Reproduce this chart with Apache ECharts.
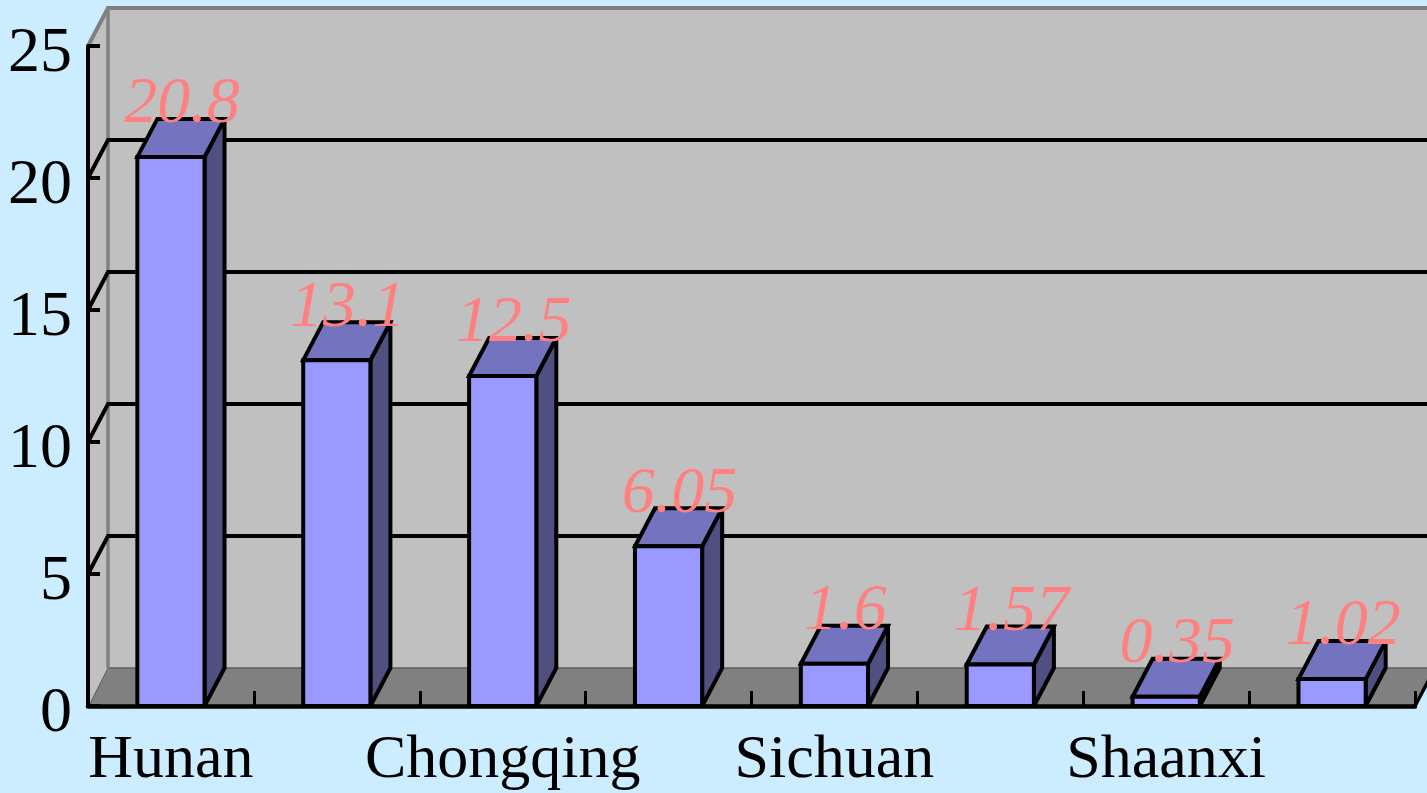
<!DOCTYPE html>
<html><head><meta charset="utf-8">
<style>html,body{margin:0;padding:0;background:#CCECFF}#c{width:1427px;height:793px}</style>
<script src="https://cdn.jsdelivr.net/npm/echarts@6/dist/echarts.min.js"></script>
</head><body><div id="c"></div>
<script>
const categories = ['Hunan','','Chongqing','','Sichuan','','Shaanxi',''];
const values = [20.8,13.1,12.5,6.05,1.6,1.57,0.35,1.02];
const valueLabels = ['20.8','13.1','12.5','6.05','1.6','1.57','0.35','1.02'];
const gridValues = [5,10,15,20];
const DX = 20, DY = -38, BAR = 0.405;
const FONT = '"Liberation Serif", serif';
const chart = echarts.init(document.getElementById('c'), null, {renderer:'canvas'});

function poly(points, fill, stroke, lw, z2){
  return {type:'polygon', shape:{points}, z2:z2||0,
    style:{fill, stroke, lineWidth:lw, lineJoin:'miter', miterLimit:2}};
}
function line(points, stroke, lw, z2){
  return {type:'polyline', shape:{points}, z2:z2||0,
    style:{fill:'none', stroke, lineWidth:lw, lineJoin:'miter', miterLimit:2}};
}
function renderWalls(params, api){
  const cs = params.coordSys;
  const L = cs.x, T = cs.y, R = cs.x+cs.width, B = cs.y+cs.height;
  const kids = [
    poly([[L+DX,T+DY],[R+DX+20,T+DY],[R+DX+20,B+DY],[L+DX,B+DY]],'#C0C0C0','none',0,1),
    poly([[L,T],[L+DX,T+DY],[L+DX,B+DY],[L,B]],'#C0C0C0','none',0,1),
    poly([[L,B],[L+DX,B+DY],[R+DX,B+DY],[R,B]],'#808080','none',0,2),
    line([[L+DX,B+DY],[R+DX+20,B+DY]],'#5E5E5E',1.5,3),
    line([[L+2,B-2],[L+DX,B+DY]],'#5E5E5E',1,3),
    line([[L,T],[L+DX,T+DY],[R+DX+20,T+DY]],'#7F7F7F',4,4),
    line([[L+DX,T+DY],[L+DX,B+DY]],'#808080',3.5,4),
    line([[R,B],[R+DX,B+DY]],'#000',3.5,5)
  ];
  gridValues.forEach(v=>{
    const y = api.coord([0,v])[1];
    kids.push(line([[L,y],[L+DX,y+DY],[R+DX+20,y+DY]],'#000',4,5));
  });
  return {type:'group',children:kids};
}
function renderBars(params, api){
  const i = api.value(0), v = api.value(1);
  const top = api.coord([i,v]), base = api.coord([i,0]);
  const band = api.size([1,0])[0], w = band*BAR;
  const x0 = top[0]-w/2, x1 = top[0]+w/2, yt = top[1], yb = base[1];
  return {type:'group',children:[
    poly([[x1,yb],[x1+DX,yb+DY],[x1+DX,yt+DY],[x1,yt]],'#4F4F80','#000',4,1),
    poly([[x0,yt],[x0+DX,yt+DY],[x1+DX,yt+DY],[x1,yt]],'#7373BF','#000',4,2),
    poly([[x0,yb],[x0,yt],[x1,yt],[x1,yb]],'#9999FF','#000',4,3)
  ]};
}
function renderLabels(params, api){
  const i = api.value(0), v = api.value(1);
  const top = api.coord([i,v]);
  return {type:'text', x:top[0]+DX/2+1, y:top[1]+DY-14, z2:50,
    style:{text:valueLabels[i], fill:'#FF8080', font:'italic 66px '+FONT,
      textAlign:'center', textVerticalAlign:'middle'}};
}
chart.setOption({
  backgroundColor:'#CCECFF',
  animation:false,
  grid:{left:88,right:12,top:46,bottom:87,containLabel:false},
  xAxis:{type:'category',data:categories,boundaryGap:true,
    axisLine:{lineStyle:{color:'#000',width:4.5}},
    axisTick:{show:true,alignWithLabel:false,inside:true,length:15,lineStyle:{color:'#000',width:3}},
    axisLabel:{show:true,interval:0,color:'#000',fontFamily:FONT,fontSize:62,margin:24},
    splitLine:{show:false}},
  yAxis:{type:'value',min:0,max:25,interval:5,
    axisLine:{show:true,lineStyle:{color:'#000',width:4}},
    axisTick:{show:true,inside:true,length:12,lineStyle:{color:'#000',width:4}},
    axisLabel:{color:'#000',fontFamily:FONT,fontSize:64,margin:16,verticalAlign:'top',lineHeight:16},
    splitLine:{show:false}},
  series:[
    {type:'custom',name:'walls',z:-1,silent:true,clip:false,data:[[0,0]],renderItem:renderWalls},
    {type:'custom',name:'bars',z:3,clip:false,encode:{x:0,y:1},
      data:values.map((v,i)=>[i,v]),renderItem:renderBars},
    {type:'custom',name:'labels',z:6,clip:false,encode:{x:0,y:1},
      data:values.map((v,i)=>[i,v]),renderItem:renderLabels}
  ]
});
</script></body></html>
